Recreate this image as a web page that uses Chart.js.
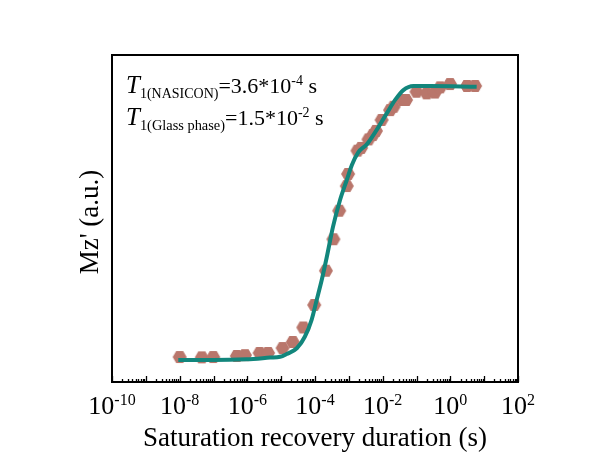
<!DOCTYPE html>
<html>
<head>
<meta charset="utf-8">
<script src="https://cdn.jsdelivr.net/npm/chart.js@4.4.1/dist/chart.umd.min.js"></script>
<style>
  html, body { margin: 0; padding: 0; background: #fff; }
  canvas { display: block; }
</style>
</head>
<body>
<canvas id="myChart" width="593" height="455"></canvas>
<script>
// Measured points (time in s, normalised Mz')
const pointTime = [1.0e-8, 4.5e-8, 9.8e-8, 4.9e-7, 8.5e-7, 2.3e-6, 4.1e-6, 1.1e-5, 2.2e-5, 4.5e-5,
  9.5e-5, 2.1e-4, 3.5e-4, 5.2e-4, 8.7e-4, 9.5e-4, 1.8e-3, 2.3e-3, 3.8e-3, 5.1e-3,
  6.3e-3, 9.3e-3, 1.66e-2, 2.1e-2, 3.9e-2, 4.9e-2, 0.10, 0.20, 0.35, 0.50, 0.98, 3.1, 5.4];
const pointMz = [0.011, 0.010, 0.011, 0.015, 0.018, 0.026, 0.026, 0.044, 0.066, 0.119,
  0.201, 0.326, 0.441, 0.545, 0.635, 0.679, 0.764, 0.774, 0.805, 0.821,
  0.836, 0.876, 0.912, 0.924, 0.949, 0.949, 0.979, 0.973, 0.976, 0.995, 1.007, 1.0, 1.0];

// Fitted curve
const fitTime = [9.1e-9, 9.8e-8, 9.5e-7, 4.7e-6, 9.3e-6, 1.45e-5, 2.9e-5, 5.0e-5, 7.9e-5, 1.12e-4,
  1.58e-4, 2.24e-4, 3.4e-4, 5.5e-4, 8.7e-4, 1.23e-3, 1.9e-3, 3.4e-3, 6.6e-3, 1.32e-2,
  2.34e-2, 4.1e-2, 8.1e-2, 0.25, 6.0];
const fitMz = [0, 0, 0.003, 0.009, 0.012, 0.022, 0.043, 0.085, 0.146, 0.219,
  0.292, 0.377, 0.486, 0.584, 0.657, 0.712, 0.758, 0.787, 0.839, 0.900,
  0.949, 0.985, 1.0, 1.0, 0.997];

// x tick labels: exponents of 10
const tickExp = [-10, -8, -6, -4, -2, 0, 2];

const SERIF = "'Liberation Serif', 'Times New Roman', serif";

// hexagon marker
function hexMarker(r, color) {
  const c = document.createElement('canvas');
  c.width = c.height = Math.ceil(r * 2 + 2);
  const g = c.getContext('2d');
  const cx = c.width / 2, cy = c.height / 2;
  g.beginPath();
  for (let i = 0; i < 6; i++) {
    const a = Math.PI / 3 * i;
    const px = cx + r * Math.cos(a), py = cy + r * Math.sin(a);
    if (i === 0) g.moveTo(px, py); else g.lineTo(px, py);
  }
  g.closePath();
  g.fillStyle = color;
  g.fill();
  return c;
}

function drawRich(ctx, x, y, parts, align) {
  let w = 0;
  parts.forEach(p => { ctx.font = p.font; w += ctx.measureText(p.text).width; });
  let cx = align === 'center' ? x - w / 2 : x;
  parts.forEach(p => {
    ctx.font = p.font;
    ctx.fillText(p.text, cx, y + (p.dy || 0));
    cx += ctx.measureText(p.text).width;
  });
}

const framePlugin = {
  id: 'frame',
  afterDraw(chart) {
    const ctx = chart.ctx;
    const a = chart.chartArea;
    const xs = chart.scales.x;
    ctx.save();
    ctx.strokeStyle = '#000';
    ctx.fillStyle = '#000';

    // minor / major ticks, pointing inward
    ctx.lineWidth = 1.3;
    for (let e = -10; e <= 2; e++) {
      const px = Math.round(xs.getPixelForValue(Math.pow(10, e))) + 0.5;
      ctx.beginPath();
      ctx.moveTo(px, a.bottom);
      ctx.lineTo(px, a.bottom - 6);
      ctx.stroke();
      if (e < 2) {
        for (let m = 2; m <= 9; m++) {
          const mx = Math.round(xs.getPixelForValue(m * Math.pow(10, e))) + 0.5;
          ctx.beginPath();
          ctx.moveTo(mx, a.bottom);
          ctx.lineTo(mx, a.bottom - 3);
          ctx.stroke();
        }
      }
    }

    // frame
    ctx.lineWidth = 2;
    ctx.strokeRect(a.left, a.top, a.right - a.left, a.bottom - a.top);

    // tick labels
    ctx.textBaseline = 'alphabetic';
    tickExp.forEach(e => {
      const px = xs.getPixelForValue(Math.pow(10, e));
      drawRich(ctx, px, 414, [
        { text: '10', font: '26px ' + SERIF },
        { text: String(e), font: '16px ' + SERIF, dy: -9 }
      ], 'center');
    });

    // axis titles
    drawRich(ctx, (a.left + a.right) / 2, 446, [{ text: 'Saturation recovery duration (s)', font: '27px ' + SERIF }], 'center');

    ctx.save();
    ctx.translate(98, 222);
    ctx.rotate(-Math.PI / 2);
    drawRich(ctx, 0, 0, [{ text: "Mz' (a.u.)", font: '27px ' + SERIF }], 'center');
    ctx.restore();

    // T1 annotations
    drawRich(ctx, 126, 93, [
      { text: 'T', font: 'italic 25px ' + SERIF },
      { text: '1(NASICON)', font: '14px ' + SERIF, dy: 5 },
      { text: '=3.6*10', font: '22px ' + SERIF },
      { text: '-4', font: '14px ' + SERIF, dy: -8 },
      { text: ' s', font: '22px ' + SERIF }
    ]);
    drawRich(ctx, 126, 125, [
      { text: 'T', font: 'italic 25px ' + SERIF },
      { text: '1(Glass phase)', font: '14.4px ' + SERIF, dy: 5 },
      { text: '=1.5*10', font: '22px ' + SERIF },
      { text: '-2', font: '14px ' + SERIF, dy: -8 },
      { text: ' s', font: '22px ' + SERIF }
    ]);
    ctx.restore();
  }
};

const ctx = document.getElementById('myChart').getContext('2d');
const chart = new Chart(ctx, {
  type: 'scatter',
  data: {
    datasets: [
      {
        label: 'Fit',
        data: fitTime.map((t, i) => ({ x: t, y: fitMz[i] })),
        showLine: true,
        borderColor: '#12867c',
        borderWidth: 4,
        pointRadius: 0,
        cubicInterpolationMode: 'monotone',
        order: 0
      },
      {
        label: 'Data',
        data: pointTime.map((t, i) => ({ x: t, y: pointMz[i] })),
        showLine: false,
        pointStyle: hexMarker(7, '#b9766b'),
        pointRadius: 7,
        order: 1
      }
    ]
  },
  options: {
    responsive: false,
    animation: false,
    layout: { padding: { left: 112, right: 75, top: 55, bottom: 73 } },
    plugins: {
      legend: { display: false },
      tooltip: { enabled: false }
    },
    scales: {
      x: { type: 'logarithmic', min: 1e-10, max: 1e2, display: false },
      y: { type: 'linear', min: -0.080, max: 1.113, display: false }
    }
  },
  plugins: [framePlugin]
});
</script>
</body>
</html>
